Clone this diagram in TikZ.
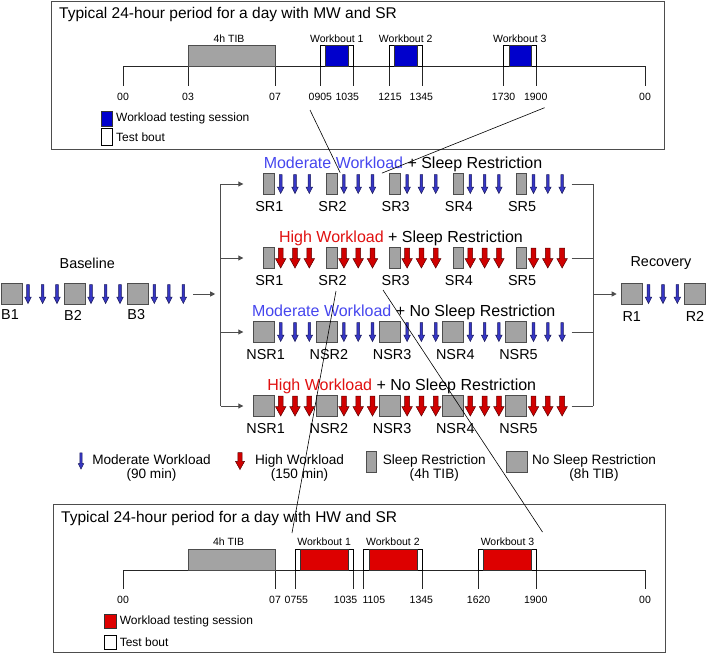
\documentclass[tikz,border=0pt]{standalone}
\usepackage{fontspec}
\setmainfont{Liberation Sans}
\usetikzlibrary{positioning}
\usetikzlibrary{calc}
\usetikzlibrary{arrows.meta}

\definecolor{mwblue}{HTML}{3636C4}
\definecolor{mwedge}{HTML}{1A1A5A}
\definecolor{hwred}{HTML}{D00000}
\definecolor{hwedge}{HTML}{5A0000}
\definecolor{sleepgrey}{HTML}{A3A3A3}
\definecolor{edgegrey}{HTML}{4D4D4D}
\definecolor{titleblue}{HTML}{4646EE}
\definecolor{titlered}{HTML}{E01010}
\definecolor{wbblue}{HTML}{0000CC}
\definecolor{wbred}{HTML}{DD0000}

\tikzset{
  panel/.style={draw=edgegrey, line width=1.1pt},
  sleepbox/.style={draw=edgegrey, fill=sleepgrey, line width=1pt},
  srbox/.style={sleepbox, minimum width=10.5pt, minimum height=20.7pt, inner sep=0pt, outer sep=0pt},
  nsrbox/.style={sleepbox, minimum width=21pt, minimum height=21pt, inner sep=0pt, outer sep=0pt},
  testbout/.style={draw=black, fill=white, line width=0.7pt},
  session/.style={draw=black!80, line width=0.7pt},
  tline/.style={draw=black!85, line width=0.8pt},
  flow/.style={draw=edgegrey, line width=0.9pt},
  flowarrow/.style={flow, -{Triangle[length=5pt,width=5pt]}},
  zoomline/.style={draw=black, line width=0.6pt},
  paneltitle/.style={font=\fontsize{15.5}{18}\selectfont, inner sep=0pt},
  ticklabel/.style={font=\fontsize{10.5}{12}\selectfont, inner sep=0pt},
  keytext/.style={font=\fontsize{12}{14}\selectfont, inner sep=0pt},
  rowtitle/.style={font=\fontsize{16}{18}\selectfont, inner sep=0pt},
  rowlabel/.style={font=\fontsize{14.4}{16}\selectfont, inner sep=0pt},
  legendtext/.style={font=\fontsize{13.6}{14.5}\selectfont, inner sep=0pt, align=center},
  mwarrow/.pic={
    \filldraw[fill=mwblue, draw=mwedge, line width=0.5pt]
      (-1.3,-9.5) -- (1.3,-9.5) -- (1.3,3) -- (3.3,3) -- (0,9.5) -- (-3.3,3) -- (-1.3,3) -- cycle;
  },
  hwarrow/.pic={
    \filldraw[fill=hwred, draw=hwedge, line width=0.5pt]
      (-2.4,-10) -- (2.4,-10) -- (2.4,0.5) -- (5.3,0.5) -- (0,10) -- (-5.3,0.5) -- (-2.4,0.5) -- cycle;
  },
}

\begin{document}
\begin{tikzpicture}[x=1pt, y=-1pt]
    \useasboundingbox (0,0) rectangle (706,653);

    % typical day, moderate workload
    \node[panel, anchor=north west, minimum width=613pt, minimum height=148pt] (mwday) at (51,1) {};
    \node[paneltitle, anchor=west] (mwtitle) at (59,14) {Typical 24-hour period for a day with MW and SR};
    \draw[tline] (123,86) -- (123,66.7) -- (645,66.7) -- (645,86);
    \foreach \t in {188,275,320.4,353.2,389.3,422.1,503.6,536}
        \draw[tline] (\t,66.7) -- (\t,86);
    \draw[sleepbox] (188,45.3) rectangle (275,66.7);
    \node[ticklabel] (mwtib) at (229,39) {4h TIB};
    \foreach \a/\b/\c/\d/\n in {320.4/325.7/348.2/353.2/1, 389.3/394.3/417.1/422.1/2, 503.6/509.3/531/536/3}{
        \draw[testbout] (\a,45.7) rectangle (\d,66.7);
        \draw[session, fill=wbblue] (\b,45.7) rectangle (\c,66.7);
        \node[ticklabel] (mwwb\n) at ({(\a+\d)/2},39) {Workbout \n};
    }
    \foreach \t/\lab [count=\i] in {123/00, 188/03, 275/07, 320.4/0905, 347.3/1035, 390/1215, 421.4/1345, 503.6/1730, 535.7/1900, 645/00}
        \node[ticklabel] (mwtick\i) at (\t,97) {\lab};
    \draw[session, fill=wbblue] (101,111.3) rectangle (112.5,126);
    \node[keytext, anchor=west] (mwkey1) at (116,118.5) {Workload testing session};
    \draw[testbout] (101,128.5) rectangle (112.5,145);
    \node[keytext, anchor=west] (mwkey2) at (116,137) {Test bout};

    % baseline
    \node[rowlabel] (baseline) at (87.3,263.3) {Baseline};
    \foreach \k/\r in {1/22,2/85,3/148.3}{
        \node[nsrbox, anchor=east] (b\k) at (\r,294) {};
        \node[rowlabel] (blab\k) at (\r-12,315) {B\k};
        \foreach \d in {6,20.6,35}
            \pic at (\r+\d,294) {mwarrow};
    }

    % the four conditions
    \node[rowtitle] (mwsrtitle) at (403,164) {\textcolor{titleblue}{Moderate Workload} + Sleep Restriction};
    \node[rowtitle] (hwsrtitle) at (401,238.3) {\textcolor{titlered}{High Workload} + Sleep Restriction};
    \node[rowtitle] (mwnsrtitle) at (403.7,312.3) {\textcolor{titleblue}{Moderate Workload} + No Sleep Restriction};
    \node[rowtitle] (hwnsrtitle) at (401.8,386) {\textcolor{titlered}{High Workload} + No Sleep Restriction};
    \foreach \k in {1,...,5}{
        \pgfmathsetmacro{\r}{274+63.2*(\k-1)}
        \node[srbox, anchor=east] (mwsr\k) at (\r,184) {};
        \node[rowlabel] (mwsrlab\k) at (\r-4.7,206.8) {SR\k};
        \node[srbox, anchor=east] (hwsr\k) at (\r,258) {};
        \node[rowlabel] (hwsrlab\k) at (\r-4.7,280.6) {SR\k};
        \node[nsrbox, anchor=east] (mwnsr\k) at (\r,332) {};
        \node[rowlabel] (mwnsrlab\k) at (\r-8.3,354.2) {NSR\k};
        \node[nsrbox, anchor=east] (hwnsr\k) at (\r,406) {};
        \node[rowlabel] (hwnsrlab\k) at (\r-8.3,428.3) {NSR\k};
        \foreach \d in {6.7,21,35.3}{
            \pic at (\r+\d,184) {mwarrow};
            \pic at (\r+\d,258) {hwarrow};
            \pic at (\r+\d,332) {mwarrow};
            \pic at (\r+\d,406) {hwarrow};
        }
    }

    % recovery
    \node[rowlabel] (recovery) at (661,263.3) {Recovery};
    \node[nsrbox, anchor=east] (r1) at (642.7,294) {};
    \node[rowlabel] (rlab1) at (631.7,316.6) {R1};
    \node[nsrbox, anchor=east] (r2) at (705,294) {};
    \node[rowlabel] (rlab2) at (695,316.6) {R2};
    \foreach \d in {5.8,20.3,34.6}
        \pic at (642.7+\d,294) {mwarrow};

    % split and merge
    \coordinate (splitin) at (220.7,294);
    \coordinate (splittop) at (220.7,184);
    \coordinate (splitbot) at (220.7,406);
    \draw[flow] (splittop) -- (splitbot);
    \draw[flowarrow] ($(b3.east)+(45,0)$) -- ($(splitin)+(-5.5,0)$);
    \foreach \n in {mwsr1,hwsr1,mwnsr1,hwnsr1}
        \draw[flowarrow] (splittop |- \n) -- ++(22.6,0);
    \coordinate (mergetop) at (593.3,184);
    \coordinate (mergebot) at (593.3,406);
    \draw[flow] (mergetop) -- (mergebot);
    \foreach \n in {mwsr5,hwsr5,mwnsr5,hwnsr5}
        \draw[flow] ($(\n.east)+(44.9,0)$) -- (mergetop |- \n);
    \draw[flowarrow] (mergetop |- r1) -- ($(r1.west)+(-5,0)$);

    % key
    \pic[scale=0.85] at (81,461) {mwarrow};
    \node[legendtext] (keymw) at (151.5,467.8) {Moderate Workload\\(90 min)};
    \pic[scale=0.85] at (240,461) {hwarrow};
    \node[legendtext] (keyhw) at (299.5,467.8) {High Workload\\(150 min)};
    \node[srbox] (keysr) at (371.3,462) {};
    \node[legendtext] (keysrtext) at (434.3,467.8) {Sleep Restriction\\(4h TIB)};
    \node[nsrbox] (keynsr) at (517.2,462) {};
    \node[legendtext] (keynsrtext) at (594,467.8) {No Sleep Restriction\\(8h TIB)};

    % typical day, high workload
    \node[panel, anchor=north west, minimum width=612pt, minimum height=147.7pt] (hwday) at (53,504) {};
    \node[paneltitle, anchor=west] (hwtitle) at (61,518) {Typical 24-hour period for a day with HW and SR};
    \draw[tline] (123,589) -- (123,570) -- (645,570) -- (645,589);
    \foreach \t in {275,295,353.2,363.6,422.1,478.6,536.4}
        \draw[tline] (\t,570) -- (\t,589);
    \draw[sleepbox] (188.2,549) rectangle (275,570);
    \node[ticklabel] (hwtib) at (228.6,542) {4h TIB};
    \foreach \a/\b/\c/\d/\n in {295/300.4/348.2/353.2/1, 363.6/369/417.1/422.1/2, 478.6/483.6/531/536.4/3}{
        \draw[testbout] (\a,549) rectangle (\d,570);
        \draw[session, fill=wbred] (\b,549) rectangle (\c,570);
        \node[ticklabel] (hwwb\n) at ({(\a+\d)/2},542) {Workbout \n};
    }
    \foreach \t/\lab [count=\i] in {123/00, 275/07, 296.4/0755, 345.6/1035, 373.8/1105, 421.4/1345, 478.6/1620, 535.7/1900, 645/00}
        \node[ticklabel] (hwtick\i) at (\t,600) {\lab};
    \draw[session, fill=wbred] (104.3,614.5) rectangle (116.8,628.5);
    \node[keytext, anchor=west] (hwkey1) at (119.6,621.7) {Workload testing session};
    \draw[testbout] (104.3,635) rectangle (116.8,649);
    \node[keytext, anchor=west] (hwkey2) at (119.6,642) {Test bout};

    % zoom lines
    \coordinate (mwzoomA) at (310,110);
    \coordinate (mwzoomB) at (544.6,107.7);
    \coordinate (hwzoomA) at (336,291);
    \coordinate (hwzoomB) at (383,290);
    \draw[zoomline] (mwzoomA) -- ($(mwsr2.north east)+(3,-1)$);
    \draw[zoomline] (mwzoomB) -- ($(mwsr3.north west)+(-8,-0.5)$);
    \draw[zoomline] (hwzoomA) -- (292,533);
    \draw[zoomline] (hwzoomB) -- (542.5,532);
\end{tikzpicture}
\end{document}
